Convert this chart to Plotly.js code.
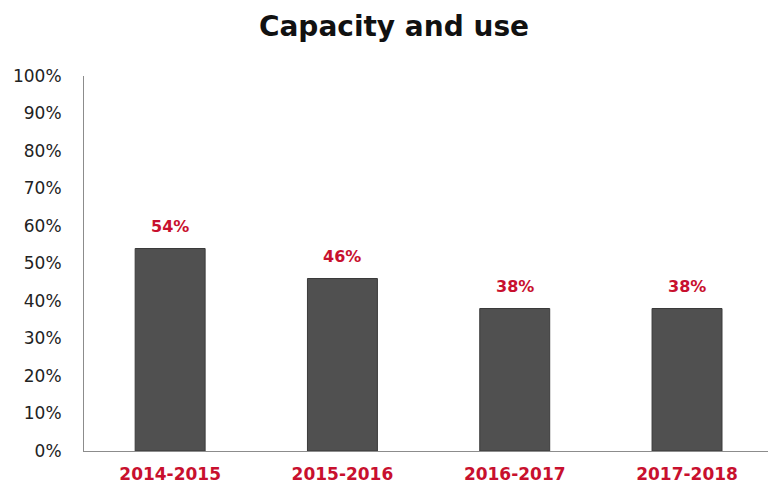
<!DOCTYPE html>
<html>
<head>
<meta charset="utf-8">
<script src="https://cdn.plot.ly/plotly-3.0.1.min.js"></script>
<style>html,body{margin:0;padding:0;background:#fff;}#chart{width:768px;height:491px;}</style>
</head>
<body>
<div id="chart"></div>
<script>
const categories = ["2014-2015", "2015-2016", "2016-2017", "2017-2018"];
const values = [0.54, 0.46, 0.38, 0.38];
const valueLabels = ["54%", "46%", "38%", "38%"];
const chartTitle = "Capacity and use";

const red = "#C8102E";

const trace = {
  type: "bar",
  x: categories,
  y: values,
  marker: { color: "#505050", line: { color: "#3a3a3a", width: 1 } },
  hoverinfo: "skip"
};

const annotations = categories.map((c, i) => ({
  x: c, y: values[i], xref: "x", yref: "y",
  text: valueLabels[i], showarrow: false,
  yanchor: "bottom", yshift: 11,
  font: { family: "DejaVu Sans", size: 16, color: red, weight: "bold" }
}));

const layout = {
  width: 768, height: 491,
  margin: { l: 84, r: 0, t: 76, b: 40 },
  paper_bgcolor: "#fff", plot_bgcolor: "#fff",
  showlegend: false,
  bargap: 0.594,
  title: {
    text: "<b>" + chartTitle + "</b>",
    x: 394 / 768, xanchor: "center",
    y: 1 - 26 / 491, yanchor: "middle",
    font: { family: "DejaVu Sans", size: 28, color: "#111" }
  },
  xaxis: {
    type: "category",
    range: [-0.5, 3.47],
    showline: true, linecolor: "#8c8c8c", linewidth: 1,
    showgrid: false, zeroline: false,
    ticks: "", ticklabelstandoff: 8,
    tickfont: { family: "DejaVu Sans", size: 17, color: red, weight: "bold" }
  },
  yaxis: {
    range: [0, 1],
    dtick: 0.1, tick0: 0,
    tickformat: ".0%",
    showline: true, linecolor: "#8c8c8c", linewidth: 1,
    showgrid: false, zeroline: false,
    ticks: "", ticklabelstandoff: 18,
    tickfont: { family: "DejaVu Sans", size: 17, color: "#222" }
  },
  annotations: annotations
};

Plotly.newPlot("chart", [trace], layout, { displayModeBar: false, staticPlot: true });
</script>
</body>
</html>
